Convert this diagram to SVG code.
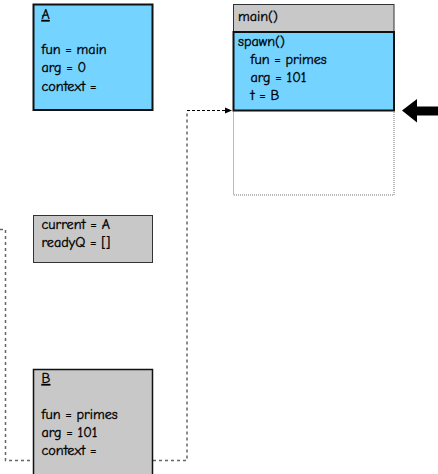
<svg xmlns="http://www.w3.org/2000/svg" width="438" height="474" viewBox="0 0 438 474">
<style>
text{font-family:"Comic Neue","Liberation Sans","DejaVu Sans",sans-serif;font-size:14.2px;fill:#000;stroke:#000;stroke-width:0.35}
.blue{fill:#75d3ff}
.gray{fill:#c8c8c8}
.dot{fill:none;stroke:#666;stroke-width:1.5;stroke-dasharray:3 3}
.u{text-decoration:underline}
</style>
<defs>
<marker id="ah" markerWidth="8" markerHeight="8" refX="7" refY="4" orient="auto" markerUnits="userSpaceOnUse">
<path d="M0,1 L7,4 L0,7 Z" fill="#000"/>
</marker>
</defs>
<g id="connectors">
<path class="dot" d="M0,229.5 H5.5 V460.5 H33"/>
<path class="dot" d="M153,460.5 H187 V110.5"/>
<path d="M187,110.5 H232" fill="none" stroke="#000" stroke-width="1" stroke-dasharray="3 2" marker-end="url(#ah)"/>
<polygon points="402,110.5 417,99 417,106.5 438,106.5 438,115.5 417,115.5 417,122.5" fill="#000"/>
</g>
<g id="nodeA">
<rect x="33.5" y="4.5" width="119" height="105.5" class="blue" stroke="#111" stroke-width="2"/>
<text x="41.5" y="19" class="u">A</text>
<text x="41.5" y="54">fun = main</text>
<text x="41.5" y="72">arg = 0</text>
<text x="41.5" y="91">context =</text>
</g>
<g id="stack">
<rect x="233.5" y="110.5" width="160.5" height="84.5" fill="#fff" stroke="#777" stroke-width="1" stroke-dasharray="1 1"/>
<rect x="233.5" y="4.5" width="160.5" height="27.5" class="gray" stroke="#333" stroke-width="1"/>
<text x="238" y="21">main()</text>
<rect x="233.5" y="32" width="160.5" height="78.5" class="blue" stroke="#111" stroke-width="2"/>
<text x="238" y="46">spawn()</text>
<text x="250.5" y="64">fun = primes</text>
<text x="250.5" y="82">arg = 101</text>
<text x="250.5" y="100">t = B</text>
</g>
<g id="scheduler">
<rect x="33.5" y="215.5" width="119" height="47" class="gray" stroke="#333" stroke-width="1"/>
<text x="41.5" y="229">current = A</text>
<text x="41.5" y="247">readyQ = []</text>
</g>
<g id="nodeB">
<rect x="33.5" y="369.5" width="119" height="110" class="gray" stroke="#111" stroke-width="1.5"/>
<text x="41.5" y="383" class="u">B</text>
<text x="41.5" y="419">fun = primes</text>
<text x="41.5" y="437">arg = 101</text>
<text x="41.5" y="455">context =</text>
</g>
</svg>
